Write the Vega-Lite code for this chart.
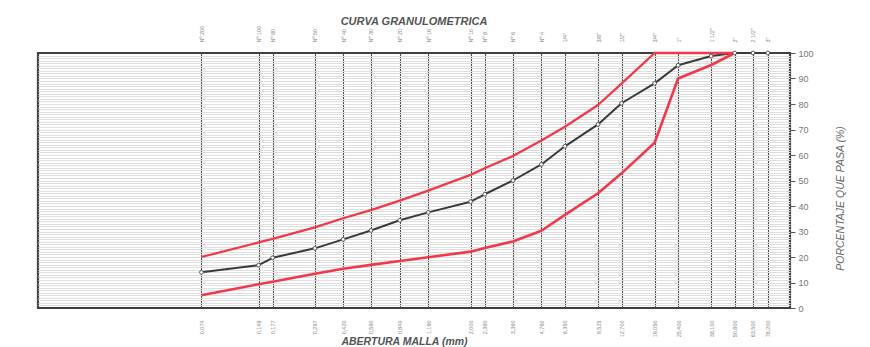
{
  "$schema": "https://vega.github.io/schema/vega-lite/v6.json",
  "autosize": {"type": "none"},
  "padding": {"left": 38, "top": 53, "right": 80, "bottom": 39},
  "width": 752,
  "height": 255,
  "background": "white",
  "config": {
    "font": "Liberation Sans",
    "view": {"stroke": "#404040", "strokeWidth": 2.2}
  },
  "title": {
    "text": "CURVA GRANULOMETRICA",
    "fontSize": 11,
    "fontStyle": "italic",
    "fontWeight": "bold",
    "color": "#555",
    "anchor": "middle",
    "offset": -2
  },
  "datasets": {
    "curvas": [
      {"abertura": 0.074, "serie": "Muestra", "pasa": 14},
      {"abertura": 0.149, "serie": "Muestra", "pasa": 16.8},
      {"abertura": 0.177, "serie": "Muestra", "pasa": 19.7},
      {"abertura": 0.297, "serie": "Muestra", "pasa": 23.4},
      {"abertura": 0.42, "serie": "Muestra", "pasa": 26.9},
      {"abertura": 0.59, "serie": "Muestra", "pasa": 30.4},
      {"abertura": 0.84, "serie": "Muestra", "pasa": 34.4},
      {"abertura": 1.19, "serie": "Muestra", "pasa": 37.5},
      {"abertura": 2.0, "serie": "Muestra", "pasa": 41.7},
      {"abertura": 2.38, "serie": "Muestra", "pasa": 44.6},
      {"abertura": 3.36, "serie": "Muestra", "pasa": 50},
      {"abertura": 4.76, "serie": "Muestra", "pasa": 56.3},
      {"abertura": 6.35, "serie": "Muestra", "pasa": 63.4},
      {"abertura": 9.525, "serie": "Muestra", "pasa": 72},
      {"abertura": 12.7, "serie": "Muestra", "pasa": 80.3},
      {"abertura": 19.05, "serie": "Muestra", "pasa": 88.1},
      {"abertura": 25.4, "serie": "Muestra", "pasa": 95.2},
      {"abertura": 38.1, "serie": "Muestra", "pasa": 98.8},
      {"abertura": 50.8, "serie": "Muestra", "pasa": 100},
      {"abertura": 63.5, "serie": "Muestra", "pasa": 100},
      {"abertura": 76.2, "serie": "Muestra", "pasa": 100},
      {"abertura": 0.074, "serie": "Superior", "pasa": 20},
      {"abertura": 0.149, "serie": "Superior", "pasa": 25.7},
      {"abertura": 0.177, "serie": "Superior", "pasa": 27.1},
      {"abertura": 0.297, "serie": "Superior", "pasa": 31.6},
      {"abertura": 0.42, "serie": "Superior", "pasa": 35.2},
      {"abertura": 0.59, "serie": "Superior", "pasa": 38.4},
      {"abertura": 0.84, "serie": "Superior", "pasa": 42.1},
      {"abertura": 1.19, "serie": "Superior", "pasa": 46},
      {"abertura": 2.0, "serie": "Superior", "pasa": 52.2},
      {"abertura": 2.38, "serie": "Superior", "pasa": 54.8},
      {"abertura": 3.36, "serie": "Superior", "pasa": 59.6},
      {"abertura": 4.76, "serie": "Superior", "pasa": 65.7},
      {"abertura": 6.35, "serie": "Superior", "pasa": 71.1},
      {"abertura": 9.525, "serie": "Superior", "pasa": 79.6},
      {"abertura": 12.7, "serie": "Superior", "pasa": 88},
      {"abertura": 19.05, "serie": "Superior", "pasa": 100},
      {"abertura": 25.4, "serie": "Superior", "pasa": 100},
      {"abertura": 38.1, "serie": "Superior", "pasa": 100},
      {"abertura": 50.8, "serie": "Superior", "pasa": 100},
      {"abertura": 0.074, "serie": "Inferior", "pasa": 5},
      {"abertura": 0.149, "serie": "Inferior", "pasa": 9.3},
      {"abertura": 0.177, "serie": "Inferior", "pasa": 10.3},
      {"abertura": 0.297, "serie": "Inferior", "pasa": 13.4},
      {"abertura": 0.42, "serie": "Inferior", "pasa": 15.4},
      {"abertura": 0.59, "serie": "Inferior", "pasa": 16.9},
      {"abertura": 0.84, "serie": "Inferior", "pasa": 18.4},
      {"abertura": 1.19, "serie": "Inferior", "pasa": 19.9},
      {"abertura": 2.0, "serie": "Inferior", "pasa": 22.1},
      {"abertura": 2.38, "serie": "Inferior", "pasa": 23.5},
      {"abertura": 3.36, "serie": "Inferior", "pasa": 26.1},
      {"abertura": 4.76, "serie": "Inferior", "pasa": 30.3},
      {"abertura": 6.35, "serie": "Inferior", "pasa": 36.5},
      {"abertura": 9.525, "serie": "Inferior", "pasa": 45},
      {"abertura": 12.7, "serie": "Inferior", "pasa": 52.8},
      {"abertura": 19.05, "serie": "Inferior", "pasa": 64.8},
      {"abertura": 25.4, "serie": "Inferior", "pasa": 90},
      {"abertura": 38.1, "serie": "Inferior", "pasa": 95.3},
      {"abertura": 50.8, "serie": "Inferior", "pasa": 100}
    ]
  },
  "data": {"name": "curvas"},
  "layer": [
    {
      "mark": {"type": "line", "strokeJoin": "round"},
      "encoding": {
        "x": {
          "field": "abertura",
          "type": "quantitative",
          "scale": {"type": "log", "domain": [0.01, 100], "nice": false},
          "axis": {
            "orient": "bottom",
            "title": "ABERTURA MALLA (mm)",
            "titleFontSize": 10.5,
            "titleFontStyle": "italic",
            "titleFontWeight": "bold",
            "titleColor": "#555",
            "titlePadding": 0,
            "titleX": 366,
            "values": [0.074, 0.149, 0.177, 0.297, 0.42, 0.59, 0.84, 1.19, 2.0, 2.38, 3.36, 4.76, 6.35, 9.525, 12.7, 19.05, 25.4, 38.1, 50.8, 63.5, 76.2],
            "labelExpr": "replace(format(datum.value, '.3f'), '.', ',')",
            "labelAngle": 270,
            "labelFontSize": 5.5,
            "labelColor": "#888",
            "labelPadding": 12,
            "labelOverlap": false,
            "labelFlush": false,
            "ticks": false,
            "domain": false,
            "grid": true,
            "gridColor": "#4a4a4a",
            "gridWidth": 1.1,
            "gridOpacity": 1
          }
        },
        "y": {
          "field": "pasa",
          "type": "quantitative",
          "scale": {"domain": [0, 100], "nice": false},
          "axis": {
            "orient": "right",
            "title": "PORCENTAJE QUE PASA (%)",
            "titleAngle": 270,
            "titleFontSize": 10.5,
            "titleFontStyle": "italic",
            "titleFontWeight": "normal",
            "titleColor": "#666",
            "titlePadding": 32,
            "titleY": 145,
            "values": [0, 10, 20, 30, 40, 50, 60, 70, 80, 90, 100],
            "labelFontSize": 9,
            "labelColor": "#777",
            "labelPadding": 3,
            "tickSize": 5,
            "tickColor": "#555",
            "domain": false,
            "grid": false
          }
        },
        "color": {
          "field": "serie",
          "type": "nominal",
          "scale": {"domain": ["Muestra", "Superior", "Inferior"], "range": ["#3a3a3a", "#f0394b", "#f0394b"]},
          "legend": null
        },
        "strokeWidth": {
          "field": "serie",
          "type": "nominal",
          "scale": {"domain": ["Muestra", "Superior", "Inferior"], "range": [2, 2.6, 2.6]},
          "legend": null
        },
        "order": {"field": "abertura", "type": "quantitative"}
      }
    },
    {
      "transform": [{"filter": "datum.serie == 'Muestra'"}],
      "mark": {"type": "point", "filled": true, "fill": "white", "stroke": "#555", "strokeWidth": 1, "size": 14, "opacity": 1},
      "encoding": {
        "x": {
          "field": "abertura",
          "type": "quantitative",
          "axis": {
            "orient": "top",
            "title": null,
            "values": [0.074, 0.149, 0.177, 0.297, 0.42, 0.59, 0.84, 1.19, 2.0, 2.38, 3.36, 4.76, 6.35, 9.525, 12.7, 19.05, 25.4, 38.1, 50.8, 63.5, 76.2],
            "labelExpr": "datum.value == 0.074 ? 'Nº 200' : datum.value == 0.149 ? 'Nº 100' : datum.value == 0.177 ? 'Nº 80' : datum.value == 0.297 ? 'Nº 50' : datum.value == 0.42 ? 'Nº 40' : datum.value == 0.59 ? 'Nº 30' : datum.value == 0.84 ? 'Nº 20' : datum.value == 1.19 ? 'Nº 16' : datum.value == 2 ? 'Nº 10' : datum.value == 2.38 ? 'Nº 8' : datum.value == 3.36 ? 'Nº 6' : datum.value == 4.76 ? 'Nº 4' : datum.value == 6.35 ? '1/4\"' : datum.value == 9.525 ? '3/8\"' : datum.value == 12.7 ? '1/2\"' : datum.value == 19.05 ? '3/4\"' : datum.value == 25.4 ? '1\"' : datum.value == 38.1 ? '1 1/2\"' : datum.value == 50.8 ? '2\"' : datum.value == 63.5 ? '2 1/2\"' : '3\"'",
            "labelAngle": 270,
            "labelFontSize": 5.5,
            "labelColor": "#888",
            "labelPadding": 11,
            "labelOverlap": false,
            "labelFlush": false,
            "ticks": false,
            "domain": false,
            "grid": false
          }
        },
        "y": {
          "field": "pasa",
          "type": "quantitative",
          "axis": {
            "orient": "left",
            "title": null,
            "values": [1,2,3,4,5,6,7,8,9,10,11,12,13,14,15,16,17,18,19,20,21,22,23,24,25,26,27,28,29,30,31,32,33,34,35,36,37,38,39,40,41,42,43,44,45,46,47,48,49,50,51,52,53,54,55,56,57,58,59,60,61,62,63,64,65,66,67,68,69,70,71,72,73,74,75,76,77,78,79,80,81,82,83,84,85,86,87,88,89,90,91,92,93,94,95,96,97,98,99],
            "labels": false,
            "ticks": false,
            "domain": false,
            "grid": true,
            "gridColor": "#dedede",
            "gridWidth": 1,
            "gridOpacity": 1
          }
        }
      }
    }
  ],
  "resolve": {"axis": {"x": "independent", "y": "independent"}}
}
